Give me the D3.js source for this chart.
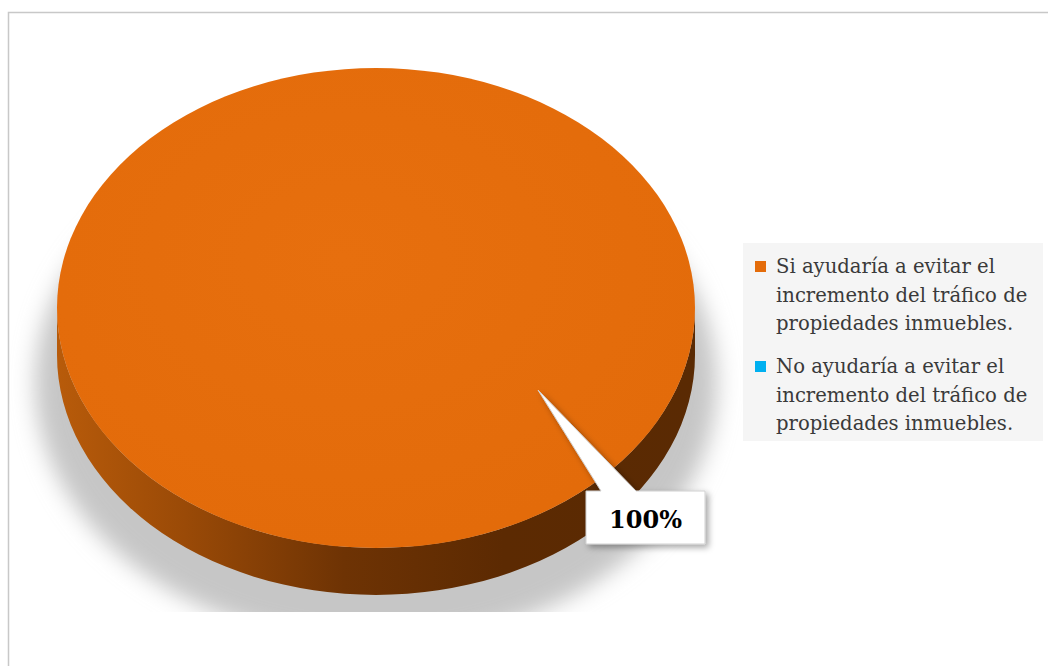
<!DOCTYPE html>
<html><head><meta charset="utf-8">
<script src="https://cdn.jsdelivr.net/npm/d3@7/dist/d3.min.js"></script>
<style>html,body{margin:0;padding:0;background:#fff;overflow:hidden}</style>
</head><body>
<script>
const categories = [
  "Si ayudaría a evitar el incremento del tráfico de propiedades inmuebles.",
  "No ayudaría a evitar el incremento del tráfico de propiedades inmuebles."
];
const legendLines = [
  ["Si ayudaría a evitar el", "incremento del tráfico de", "propiedades inmuebles."],
  ["No ayudaría a evitar el", "incremento del tráfico de", "propiedades inmuebles."]
];
const values = [100, 0];
const labels = ["100%", "0%"];
const colors = ["#e46c0a", "#00b0f0"];

const W = 1048, H = 666;
const svg = d3.select("body").append("svg").attr("width", W).attr("height", H);
const defs = svg.append("defs");

// frame
svg.append("rect").attr("x", 8.5).attr("y", 12.5).attr("width", 1100).attr("height", 700)
  .attr("fill", "#fff").attr("stroke", "#c8c8c8").attr("stroke-width", 1.5);

const cx = 376, cy = 308, rx = 319, ry = 240, depth = 47;

// shadow
const blur = defs.append("filter").attr("id", "blur").attr("x", "-20%").attr("y", "-20%").attr("width", "140%").attr("height", "140%");
blur.append("feGaussianBlur").attr("stdDeviation", 11);
defs.append("clipPath").attr("id", "shclip").append("rect").attr("x", 0).attr("y", 0).attr("width", W).attr("height", 612);
svg.append("g").attr("clip-path", "url(#shclip)")
  .append("ellipse").attr("cx", cx).attr("cy", cy + 75).attr("rx", rx + 22).attr("ry", ry + 20)
  .attr("fill", "#c6c6c6").attr("filter", "url(#blur)");

// gradients
const sideGrad = defs.append("linearGradient").attr("id", "side")
  .attr("gradientUnits", "userSpaceOnUse").attr("x1", cx - rx).attr("x2", cx + rx).attr("y1", 0).attr("y2", 0);
[[0, "#b85b0a"], [0.2, "#9a4a07"], [0.45, "#6e3304"], [0.7, "#5c2a02"], [1, "#5a2a03"]]
  .forEach(([o, c]) => sideGrad.append("stop").attr("offset", o).attr("stop-color", c));
const topGrad = defs.append("radialGradient").attr("id", "top")
  .attr("cx", "45%").attr("cy", "40%").attr("r", "60%");
[[0, "#e76f0e"], [1, "#e36b0a"]].forEach(([o, c]) => topGrad.append("stop").attr("offset", o).attr("stop-color", c));

const pie = d3.pie().sort(null).startAngle(0).endAngle(2 * Math.PI)(values);
const arc = d3.arc().innerRadius(0).outerRadius(rx);

// side wall (front half) for each slice
const pt = (a, dy) => [cx + rx * Math.sin(a), cy - ry * Math.cos(a) + dy];
pie.forEach((d, i) => {
  if (d.endAngle - d.startAngle <= 0) return;
  const a0 = Math.max(d.startAngle, Math.PI / 2), a1 = Math.min(d.endAngle, 3 * Math.PI / 2);
  if (a1 <= a0) return;
  const p0 = pt(a0, 0), p1 = pt(a1, 0), q1 = pt(a1, depth), q0 = pt(a0, depth);
  const path = `M${p0}A${rx},${ry} 0 0 1 ${p1}L${q1}A${rx},${ry} 0 0 0 ${q0}Z`;
  svg.append("path").attr("d", path).attr("fill", i === 0 ? "url(#side)" : d3.color(colors[i]).darker(1.5));
});

// top
const topG = svg.append("g").attr("transform", `translate(${cx},${cy}) scale(1,${ry / rx})`);
topG.selectAll("path").data(pie).join("path")
  .attr("d", d => d.endAngle - d.startAngle > 0 ? arc(d) : null)
  .attr("fill", (d, i) => i === 0 ? "url(#top)" : colors[i]);

// data label with callout
const ds = defs.append("filter").attr("id", "ds").attr("x", "-20%").attr("y", "-20%").attr("width", "150%").attr("height", "160%");
ds.append("feDropShadow").attr("dx", 3).attr("dy", 3).attr("stdDeviation", 3).attr("flood-color", "#000").attr("flood-opacity", 0.35);
const tip = [538, 390];
const bx = 586, by = 491, bw = 119, bh = 53;
const lab = svg.append("g").attr("filter", "url(#ds)");
lab.append("path")
  .attr("d", `M${bx},${by}L${601},${by}L${tip}L${636},${by}L${bx + bw},${by}L${bx + bw},${by + bh}L${bx},${by + bh}Z`)
  .attr("fill", "#fff").attr("stroke", "#d0d0d0").attr("stroke-width", 1);
svg.append("text").attr("x", bx + bw / 2).attr("y", by + bh / 2 + 10)
  .attr("text-anchor", "middle").attr("font-family", "'DejaVu Serif', serif").attr("font-weight", "bold")
  .attr("font-size", 24).attr("fill", "#000").text(labels[0]);

// legend
const lg = svg.append("g");
lg.append("rect").attr("x", 743).attr("y", 243).attr("width", 300).attr("height", 198).attr("fill", "#f5f5f5");
categories.forEach((c, i) => {
  const y0 = 273 + i * 100;
  lg.append("rect").attr("x", 755).attr("y", y0 - 12).attr("width", 11).attr("height", 11).attr("fill", colors[i]);
  legendLines[i].forEach((t, j) => {
    lg.append("text").attr("x", 776).attr("y", y0 + j * 28.5)
      .attr("font-family", "'DejaVu Serif', serif").attr("font-size", 19.6).attr("fill", "#3a3a3a").text(t);
  });
});
</script>
</body></html>
